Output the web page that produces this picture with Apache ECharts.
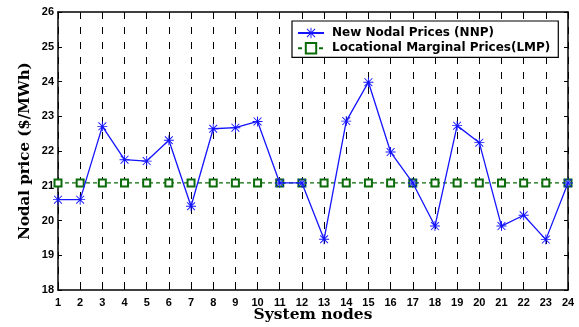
<!DOCTYPE html>
<html><head><meta charset="utf-8">
<script src="https://cdn.jsdelivr.net/npm/echarts@6/dist/echarts.min.js"></script>
<style>html,body{margin:0;padding:0;background:#fff}#c{width:579px;height:327px}</style>
</head><body><div id="c"></div>
<script>
var nodes = ['1','2','3','4','5','6','7','8','9','10','11','12','13','14','15','16','17','18','19','20','21','22','23','24'];
var nnp = [20.60,20.60,22.71,21.75,21.71,22.31,20.41,22.64,22.67,22.85,21.08,21.08,19.46,22.86,23.98,21.97,21.08,19.84,22.73,22.24,19.84,20.15,19.45,21.08];
var lmp = [21.08,21.08,21.08,21.08,21.08,21.08,21.08,21.08,21.08,21.08,21.08,21.08,21.08,21.08,21.08,21.08,21.08,21.08,21.08,21.08,21.08,21.08,21.08,21.08];
var yTicks = [18,19,20,21,22,23,24,25,26];

var star = 'path://M9.1 0H10.9V20H9.1Z M0 9.1H20V10.9H0Z M1.5 2.8L2.8 1.5L18.5 17.2L17.2 18.5Z M17.2 1.5L18.5 2.8L2.8 18.5L1.5 17.2Z';
var chart = echarts.init(document.getElementById('c'));
var sans = 'Liberation Sans, Arial, sans-serif';
var wsans = 'DejaVu Sans, sans-serif';
var serif = 'DejaVu Serif, serif';
chart.setOption({
  animation: false,
  grid: {left: 58, right: 11, top: 12, bottom: 37, containLabel: false, outerBoundsMode: 'none'},
  legend: {
    orient: 'vertical', left: 292, top: 21,
    padding: [6, 8, 3, 5], itemGap: 3, itemWidth: 26, itemHeight: 13,
    borderColor: '#000', borderWidth: 1.2, backgroundColor: '#fff',
    textStyle: {fontFamily: wsans, fontWeight: 'bold', fontSize: 12, color: '#000', padding: [0,0,0,3]},
    data: ['New Nodal Prices (NNP)', 'Locational Marginal Prices(LMP)']
  },
  xAxis: [{
    type: 'category', data: nodes, boundaryGap: false,
    name: 'System nodes', nameLocation: 'middle', nameGap: 17, nameMoveOverlap: false,
    nameTextStyle: {fontFamily: serif, fontWeight: 'bold', fontSize: 15.5, color: '#000'},
    axisLine: {lineStyle: {color: '#000', width: 1.5}},
    axisTick: {inside: true, length: 4, lineStyle: {color: '#000'}},
    axisLabel: {fontFamily: sans, fontWeight: 'bold', fontSize: 11, color: '#000', margin: 7, interval: 0},
    splitLine: {show: true, lineStyle: {color: '#000', type: [7, 8], width: 1}}
  }, {
    type: 'category', data: nodes, boundaryGap: false, position: 'top',
    axisLine: {lineStyle: {color: '#000', width: 1.5}},
    axisTick: {inside: true, length: 4, lineStyle: {color: '#000'}},
    axisLabel: {show: false}, splitLine: {show: false}
  }],
  yAxis: [{
    type: 'value', min: 18, max: 26, interval: 1,
    name: 'Nodal price ($/MWh)', nameLocation: 'middle', nameGap: 25, nameMoveOverlap: false,
    nameTextStyle: {fontFamily: serif, fontWeight: 'bold', fontSize: 15, color: '#000'},
    axisLine: {show: true, lineStyle: {color: '#000', width: 1.5}},
    axisTick: {show: true, inside: true, length: 4, lineStyle: {color: '#000'}},
    axisLabel: {fontFamily: sans, fontWeight: 'bold', fontSize: 11, color: '#000', margin: 4,
      formatter: function(v){ return yTicks.indexOf(v) >= 0 ? String(v) : ''; }},
    splitLine: {show: false}
  }, {
    type: 'value', min: 18, max: 26, interval: 1, position: 'right',
    axisLine: {show: true, lineStyle: {color: '#000', width: 1.5}},
    axisTick: {show: true, inside: true, length: 4, lineStyle: {color: '#000'}},
    axisLabel: {show: false}, splitLine: {show: false}
  }],
  series: [{
    name: 'New Nodal Prices (NNP)', type: 'line', data: nnp,
    symbol: star, symbolSize: 10, showAllSymbol: true,
    lineStyle: {color: '#1414ff', width: 1.3},
    itemStyle: {color: '#1414ff', borderWidth: 0},
    z: 3
  }, {
    name: 'Locational Marginal Prices(LMP)', type: 'line', data: lmp,
    symbol: 'emptyRect', symbolSize: 7, showAllSymbol: true,
    lineStyle: {color: '#0b6b0b', width: 1.3, type: [4, 3]},
    itemStyle: {color: '#0b6b0b', borderColor: '#0b6b0b', borderWidth: 1.2},
    z: 2
  }]
});
</script></body></html>
